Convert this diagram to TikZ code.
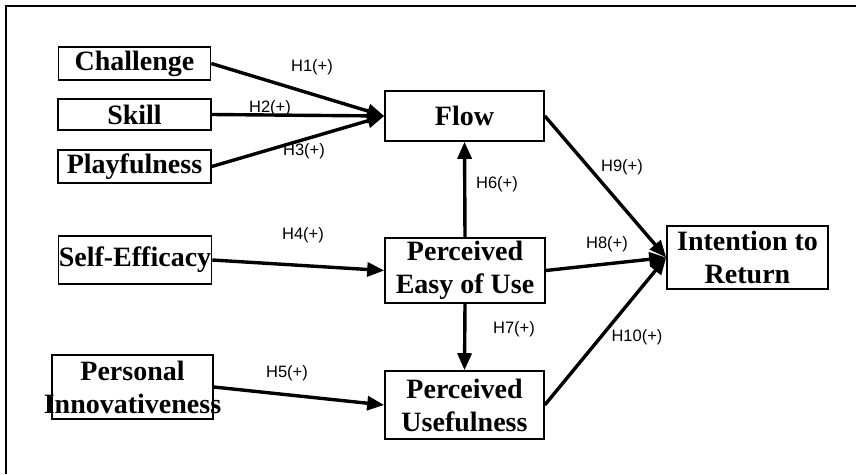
\documentclass[tikz,border=0pt]{standalone}
\usepackage{fontspec}
\setmainfont{Liberation Serif}
\newfontfamily\hypfont{Liberation Sans}
\usepackage{tikz}
\usetikzlibrary{arrows.meta}

\tikzset{
  factor/.style={draw, line width=1.6pt, inner sep=0pt, align=center,
    font=\fontsize{28}{33}\selectfont\bfseries},
  link/.style={line width=3.4pt, -{Triangle[length=17pt,width=14pt]}},
  hyp/.style={font=\hypfont\fontsize{16.5}{18}\selectfont, inner sep=0pt}
}

\begin{document}
\begin{tikzpicture}[x=1pt,y=-1pt]
\useasboundingbox (0,0) rectangle (856,474);

% The frame
\draw[line width=1.8pt] (6,474) -- (6,6) -- (856,6);

% The constructs
\node[factor, minimum width=152pt, minimum height=33pt] (chal) at (134.5,63.5) {Challenge};
\node[factor, minimum width=153pt, minimum height=31pt] (skill) at (134.5,114.5) {Skill};
\node[factor, minimum width=153pt, minimum height=33pt] (play) at (134.5,166.5) {Playfulness};
\node[factor, minimum width=153pt, minimum height=48pt] (self) at (135,260) {Self-Efficacy};
\node[factor, minimum width=161pt, minimum height=64pt] (pinn) at (132.5,387) {Personal\\\makebox[0pt][c]{Innovativeness}};
\node[factor, minimum width=159pt, minimum height=50pt] (flow) at (464.5,116) {Flow};
\node[factor, minimum width=160pt, minimum height=65pt] (peou) at (465,270.5) {Perceived\\Easy of Use};
\node[factor, minimum width=159pt, minimum height=68pt] (pu) at (464.5,405) {Perceived\\Usefulness};
\node[factor, minimum width=161pt, minimum height=63pt] (itr) at (747.5,257.5) {Intention to\\Return};

% The paths
\draw[link] (chal.east) -- (flow.west);
\draw[link] (skill.east) -- (flow.west);
\draw[link] (play.east) -- (flow.west);
\draw[link] (self.east) -- (peou.west);
\draw[link] (pinn.east) -- (pu.west);
\draw[link] (peou.north) -- (flow.south);
\draw[link] (peou.south) -- (pu.north);
\draw[link] (flow.east) -- (itr.west);
\draw[link] (peou.east) -- (itr.west);
\draw[link] (pu.east) -- (itr.west);

% The labels
\node[hyp] (h1) at (312,67) {H1(+)};
\node[hyp] (h2) at (270,108) {H2(+)};
\node[hyp] (h3) at (304,151) {H3(+)};
\node[hyp] (h4) at (303,235) {H4(+)};
\node[hyp] (h5) at (287,373) {H5(+)};
\node[hyp] (h6) at (497,184) {H6(+)};
\node[hyp] (h7) at (514,329) {H7(+)};
\node[hyp] (h8) at (607,244) {H8(+)};
\node[hyp] (h9) at (622,167) {H9(+)};
\node[hyp] (h10) at (637,337) {H10(+)};
\end{tikzpicture}
\end{document}
